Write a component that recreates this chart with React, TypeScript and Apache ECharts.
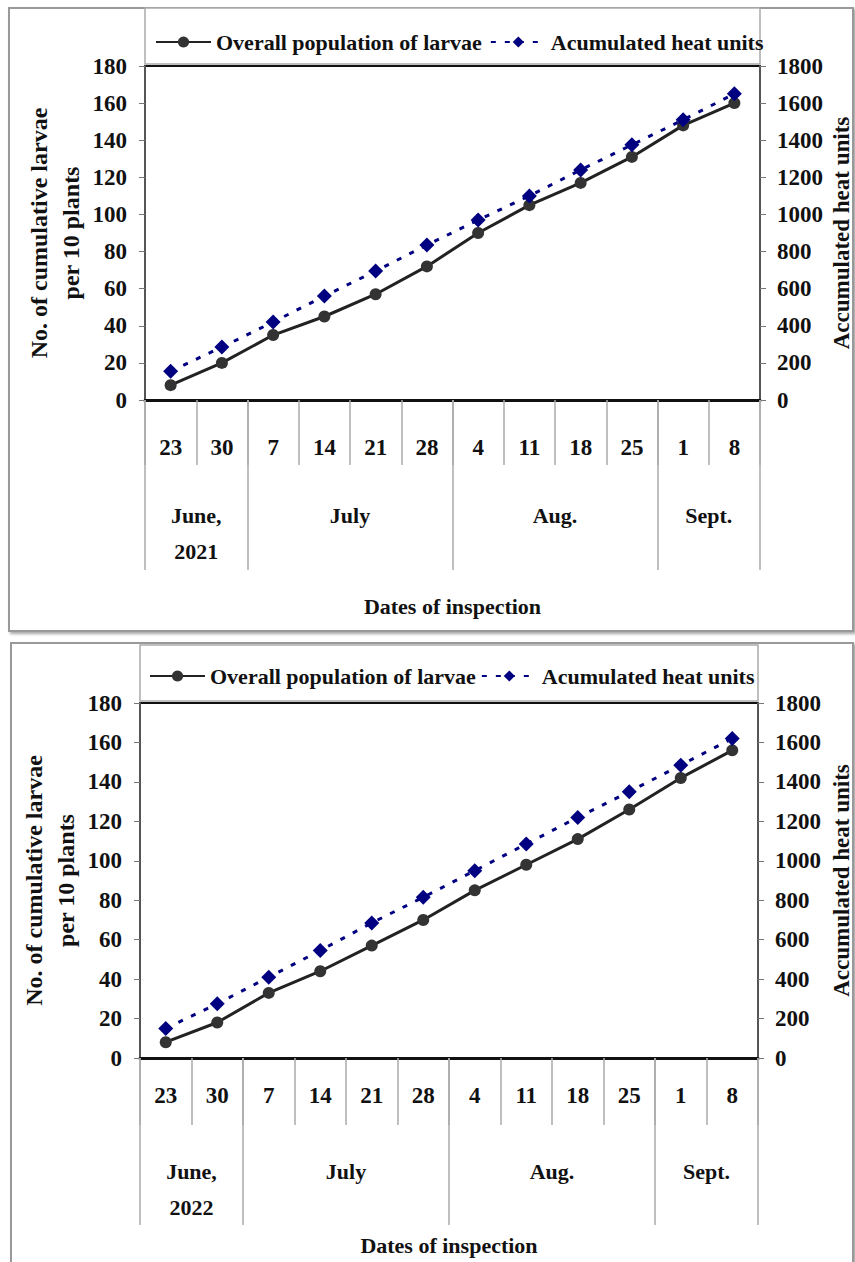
import React, { useEffect, useRef } from "react";
import * as echarts from "echarts";

const days = ["23", "30", "7", "14", "21", "28", "4", "11", "18", "25", "1", "8"];
const monthCounts = [2, 4, 4, 2];
const months2021 = ["June,\n2021", "July", "Aug.", "Sept."];
const months2022 = ["June,\n2022", "July", "Aug.", "Sept."];
const larvae2021 = [8, 20, 35, 45, 57, 72, 90, 105, 117, 131, 148, 160];
const heat2021 = [155, 285, 420, 560, 695, 835, 970, 1100, 1240, 1375, 1510, 1650];
const larvae2022 = [8, 18, 33, 44, 57, 70, 85, 98, 111, 126, 142, 156];
const heat2022 = [150, 275, 410, 545, 685, 815, 950, 1085, 1220, 1350, 1485, 1620];
const larvaeMax = 180;
const larvaeStep = 20;
const heatMax = 1800;
const heatStep = 200;
const seriesNames = ["Overall population of larvae", "Acumulated heat units"];
const leftTitle = "No. of cumulative larvae\nper 10 plants";
const rightTitle = "Accumulated heat units";
const xTitle = "Dates of inspection";

const FONT = "Liberation Serif";

const panels = [
  {
    larvae: larvae2021, heat: heat2021, months: months2021,
    grid: { left: 145, top: 66, width: 615, height: 334 },
    legendTop: 26, legendLeft: 150, legendGap: 8,
    dayMargin: 36, dayTick: 65, monthMargin: 97, monthTick: 170, nameGap: 195,
    leftGap: 58, rightGap: 70,
    frame: { x: 9, y: 8, w: 844, h: 623 },
    lbox: { x: 145, y: 8, w: 615, h: 56 },
  },
  {
    larvae: larvae2022, heat: heat2022, months: months2022,
    grid: { left: 140, top: 703, width: 618, height: 355 },
    legendTop: 660, legendLeft: 144, legendGap: 5,
    dayMargin: 26, dayTick: 67, monthMargin: 95, monthTick: 167, nameGap: 176,
    leftGap: 58, rightGap: 72,
    frame: { x: 11, y: 643, w: 842, h: 630 },
    lbox: { x: 140, y: 645, w: 618, h: 56 },
  },
];

const bounds: number[] = [0];
monthCounts.forEach((c) => bounds.push(bounds[bounds.length - 1] + c));
const centers = monthCounts.map((c, i) => bounds[i] + c / 2);

export default function App() {
  const ref = useRef<HTMLDivElement>(null);
  useEffect(() => {
    if (!ref.current) return;
    const chart = echarts.init(ref.current, null, { renderer: "svg" });
    const txt = { fontFamily: FONT, fontWeight: "bold" as const, fontSize: 22, color: "#111" };
    const tick = { ...txt, fontSize: 23 };
    const title = { ...txt, fontSize: 24 };
    const grids: any[] = [];
    const xAxes: any[] = [];
    const yAxes: any[] = [];
    const series: any[] = [];
    const legends: any[] = [];
    const graphics: any[] = [];
    panels.forEach((p, i) => {
      grids.push({
        ...p.grid, show: true, borderColor: "#111", borderWidth: 2, backgroundColor: "#fff",
        containLabel: false, outerBoundsMode: "none",
      });
      xAxes.push({
        type: "category", gridIndex: i, data: days, boundaryGap: true, position: "bottom",
        axisLine: { show: true, lineStyle: { color: "#111", width: 3 } },
        axisTick: { show: true, interval: 0, length: p.dayTick, lineStyle: { color: "#aaa", width: 1.5 } },
        axisLabel: { ...tick, interval: 0, margin: p.dayMargin },
        splitLine: { show: false },
      });
      xAxes.push({
        type: "value", gridIndex: i, min: 0, max: bounds[bounds.length - 1], position: "bottom",
        axisLine: { show: false },
        axisTick: { show: true, customValues: bounds, length: p.monthTick, lineStyle: { color: "#aaa", width: 1.5 } },
        axisLabel: {
          ...txt, customValues: centers, margin: p.monthMargin, lineHeight: 36,
          formatter: (v: number) => p.months[centers.indexOf(v)] ?? "",
        },
        splitLine: { show: false },
        name: xTitle, nameLocation: "middle", nameGap: p.nameGap, nameMoveOverlap: false,
        nameTextStyle: { ...txt },
      });
      yAxes.push({
        type: "value", gridIndex: i, min: 0, max: larvaeMax, interval: larvaeStep, position: "left",
        axisLine: { show: true, lineStyle: { color: "#555", width: 2 } },
        axisTick: { show: true, length: 6, lineStyle: { color: "#777" } },
        axisLabel: { ...tick, margin: 18, formatter: (v: number) => String(v) },
        splitLine: { show: false },
        name: leftTitle, nameLocation: "middle", nameRotate: 90, nameGap: p.leftGap, nameMoveOverlap: false,
        nameTextStyle: { ...title, lineHeight: 32 },
      });
      yAxes.push({
        type: "value", gridIndex: i, min: 0, max: heatMax, interval: heatStep, position: "right",
        axisLine: { show: true, lineStyle: { color: "#555", width: 2 } },
        axisTick: { show: true, length: 6, lineStyle: { color: "#777" } },
        axisLabel: { ...tick, margin: 17, formatter: (v: number) => String(v) },
        splitLine: { show: false },
        name: rightTitle, nameLocation: "middle", nameRotate: 90, nameGap: p.rightGap, nameMoveOverlap: false,
        nameTextStyle: { ...txt, fontSize: 23 },
      });
      series.push({
        name: seriesNames[0], type: "line", xAxisIndex: 2 * i, yAxisIndex: 2 * i, data: p.larvae,
        symbol: "circle", symbolSize: 12, color: "#333",
        lineStyle: { color: "#222", width: 3 }, itemStyle: { color: "#333" }, z: 3,
      });
      series.push({
        name: seriesNames[1], type: "line", xAxisIndex: 2 * i, yAxisIndex: 2 * i + 1, data: p.heat,
        symbol: "diamond", symbolSize: 15, color: "#000080",
        lineStyle: { color: "#000080", width: 3, type: [5, 9] }, itemStyle: { color: "#000080" }, z: 4,
      });
      legends.push({
        data: seriesNames, left: p.legendLeft, top: p.legendTop, itemWidth: 55, itemHeight: 14, itemGap: p.legendGap,
        textStyle: { ...txt }, selectedMode: false,
      });
      graphics.push({
        type: "rect", z: -10,
        shape: { x: p.frame.x, y: p.frame.y, width: p.frame.w, height: p.frame.h },
        style: { fill: "#fff", stroke: "#999", lineWidth: 2, shadowBlur: 3, shadowColor: "rgba(0,0,0,0.35)", shadowOffsetX: 2, shadowOffsetY: 2 },
      });
      graphics.push({
        type: "rect", z: -5,
        shape: { x: p.lbox.x, y: p.lbox.y, width: p.lbox.w, height: p.lbox.h },
        style: { fill: "#fff", stroke: "#aaa", lineWidth: 1.5 },
      });
    });
    chart.setOption({
      animation: false,
      backgroundColor: "#fff",
      textStyle: { fontFamily: FONT },
      grid: grids,
      xAxis: xAxes,
      yAxis: yAxes,
      series,
      legend: legends,
      graphic: graphics,
    });
    return () => chart.dispose();
  }, []);
  return (
    <div
      ref={ref}
      style={{ position: "absolute", left: 0, top: 0, width: 855, height: 1262 }}
    />
  );
}
